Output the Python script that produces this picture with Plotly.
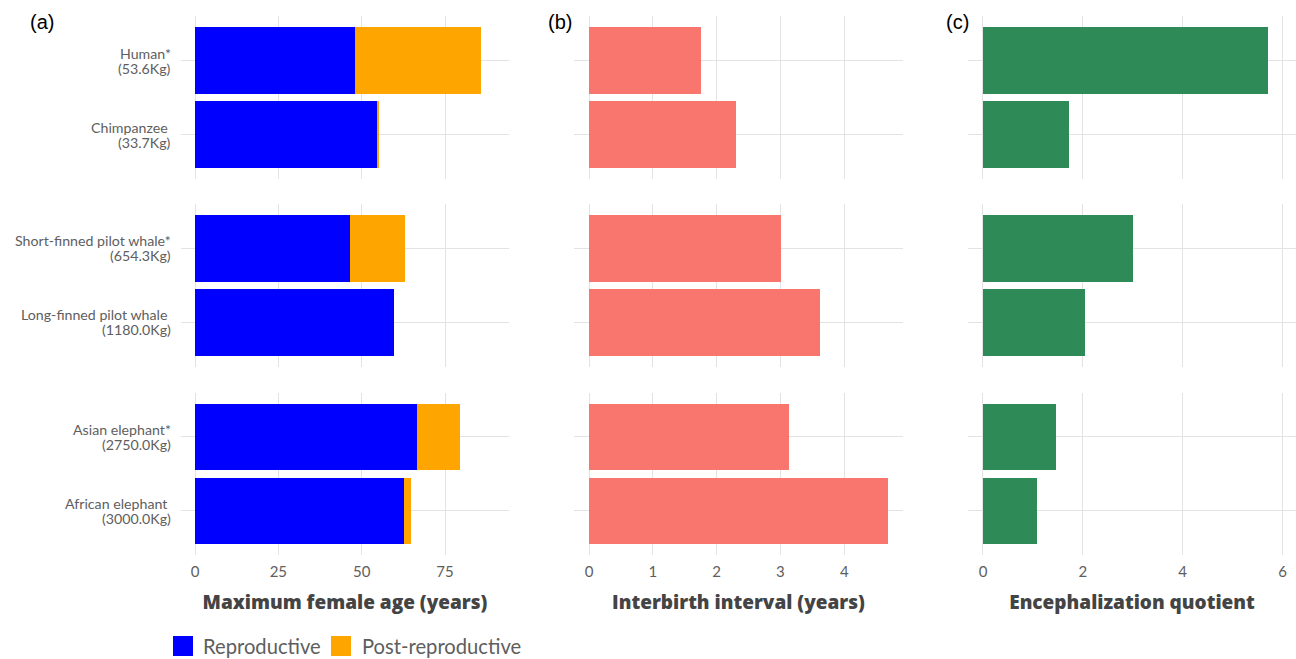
import plotly.graph_objects as go

# Species data, listed top to bottom within each group of two
species = ["Human", "Chimpanzee", "Short-finned pilot whale", "Long-finned pilot whale",
           "Asian elephant", "African elephant"]
menopause = [True, False, True, False, True, False]
body_mass_kg = [53.6, 33.7, 654.3, 1180.0, 2750.0, 3000.0]
reproductive_years = [48.0, 54.8, 46.6, 59.8, 66.6, 62.7]
post_reproductive_years = [37.8, 0.3, 16.3, 0.0, 12.9, 2.2]
interbirth_years = [1.75, 2.31, 3.01, 3.62, 3.13, 4.69]
encephalization = [5.71, 1.72, 3.00, 2.04, 1.47, 1.09]

age_ticks = [0, 25, 50, 75]
ibi_ticks = [0, 1, 2, 3, 4]
eq_ticks = [0, 2, 4, 6]

col_titles = ["Maximum female age (years)", "Interbirth interval (years)", "Encephalization quotient"]
panel_tags = ["(a)", "(b)", "(c)"]

BLUE = "#0000FF"
ORANGE = "#FFA500"
SALMON = "#F8766D"
GREEN = "#2E8B57"
GRID = "#e3e3e3"
TICK = "#5e5e5e"
TITLE = "#444444"
FONT = "Lato"
TITLE_FONT = "Open Sans"

W, H = 1296, 659

# first label line: species name with '*' for menopause species (space otherwise)
name_lines = [f"{n}{'*' if m else '\u00a0'}" for n, m in zip(species, menopause)]
mass_lines = [f"({kg:.1f}Kg)" for kg in body_mass_kg]

# panel geometry (pixels)
col_px = [(181, 509), (574, 903), (968, 1296)]
row_px = [(16.3, 179.1), (203.9, 366.7), (392.6, 555.1)]
x_ranges = [[-4.2, 94.2], [-0.235, 4.92], [-0.3, 6.27]]
x_ticks = [age_ticks, ibi_ticks, eq_ticks]

fig = go.Figure()
layout = {}
annotations = []

for r in range(3):
    idx = [2 * r, 2 * r + 1]
    cats = [species[i] for i in idx]
    for c in range(3):
        k = r * 3 + c + 1
        xa = "x" if k == 1 else f"x{k}"
        ya = "y" if k == 1 else f"y{k}"
        if c == 0:
            fig.add_trace(go.Bar(
                y=cats, x=[reproductive_years[i] for i in idx], orientation="h",
                marker=dict(color=BLUE, line=dict(width=0)), name="Reproductive",
                xaxis=xa, yaxis=ya))
            fig.add_trace(go.Bar(
                y=cats, x=[post_reproductive_years[i] for i in idx], orientation="h",
                marker=dict(color=ORANGE, line=dict(width=0)), name="Post-reproductive",
                xaxis=xa, yaxis=ya))
        elif c == 1:
            fig.add_trace(go.Bar(
                y=cats, x=[interbirth_years[i] for i in idx], orientation="h",
                marker=dict(color=SALMON, line=dict(width=0)),
                xaxis=xa, yaxis=ya))
        else:
            fig.add_trace(go.Bar(
                y=cats, x=[encephalization[i] for i in idx], orientation="h",
                marker=dict(color=GREEN, line=dict(width=0)),
                xaxis=xa, yaxis=ya))

        x0, x1 = col_px[c]
        y0, y1 = row_px[r]
        xkey = "xaxis" if k == 1 else f"xaxis{k}"
        ykey = "yaxis" if k == 1 else f"yaxis{k}"
        bottom = r == 2
        layout[xkey] = dict(
            domain=[x0 / W, x1 / W], anchor=ya, range=x_ranges[c],
            tickmode="array", tickvals=x_ticks[c], showticklabels=bottom,
            showgrid=True, gridcolor=GRID, gridwidth=1.2, zeroline=False,
            showline=False, ticks="", ticklabelstandoff=6,
            tickfont=dict(family=FONT, size=15, color=TICK),
            title=dict(text=col_titles[c] if bottom else "", standoff=16,
                       font=dict(family=TITLE_FONT, size=19, color=TITLE, weight=800)),
        )
        layout[ykey] = dict(
            domain=[1 - y1 / H, 1 - y0 / H], anchor=xa,
            type="category", categoryorder="array", categoryarray=cats[::-1],
            range=[-0.6, 1.6], showticklabels=False,
            showgrid=True, gridcolor=GRID, gridwidth=1.2, zeroline=False,
            showline=False, ticks="",
        )

        # two-line species labels left of the first column, set tightly
        if c == 0:
            for i in idx:
                for text, shift in ((name_lines[i], 7.5), (mass_lines[i], -7.5)):
                    annotations.append(dict(
                        text=text, xref="paper", yref=ya, x=172 / W, y=species[i],
                        xanchor="right", yanchor="middle", yshift=shift,
                        showarrow=False, borderpad=0,
                        font=dict(family=FONT, size=14.2, color=TICK)))

for c, tag in enumerate(panel_tags):
    annotations.append(dict(
        text=tag, xref="paper", yref="paper",
        x=[42, 560, 957][c] / W, y=1 - 22 / H, xanchor="center", yanchor="middle",
        showarrow=False, font=dict(family="Liberation Sans, Arial", size=20, color="black")))

# legend drawn as keys and labels beneath the first column
legend_items = [("Reproductive", BLUE, 173, 201), ("Post-reproductive", ORANGE, 331, 360)]
shapes = []
for text, color, kx, tx in legend_items:
    shapes.append(dict(type="rect", xref="paper", yref="paper",
                       x0=kx / W, x1=(kx + 20) / W, y0=1 - 656 / H, y1=1 - 636 / H,
                       fillcolor=color, line=dict(width=0)))
    annotations.append(dict(
        text=text, xref="paper", yref="paper", x=tx / W, y=1 - 646 / H,
        xanchor="left", yanchor="middle", showarrow=False,
        font=dict(family=FONT, size=20.2, color=TICK)))

fig.update_layout(
    width=W, height=H, margin=dict(l=0, r=0, t=0, b=0),
    paper_bgcolor="white", plot_bgcolor="white",
    barmode="stack", bargap=0.1, showlegend=False,
    annotations=annotations, shapes=shapes, **layout)

fig.write_html("out.html")
